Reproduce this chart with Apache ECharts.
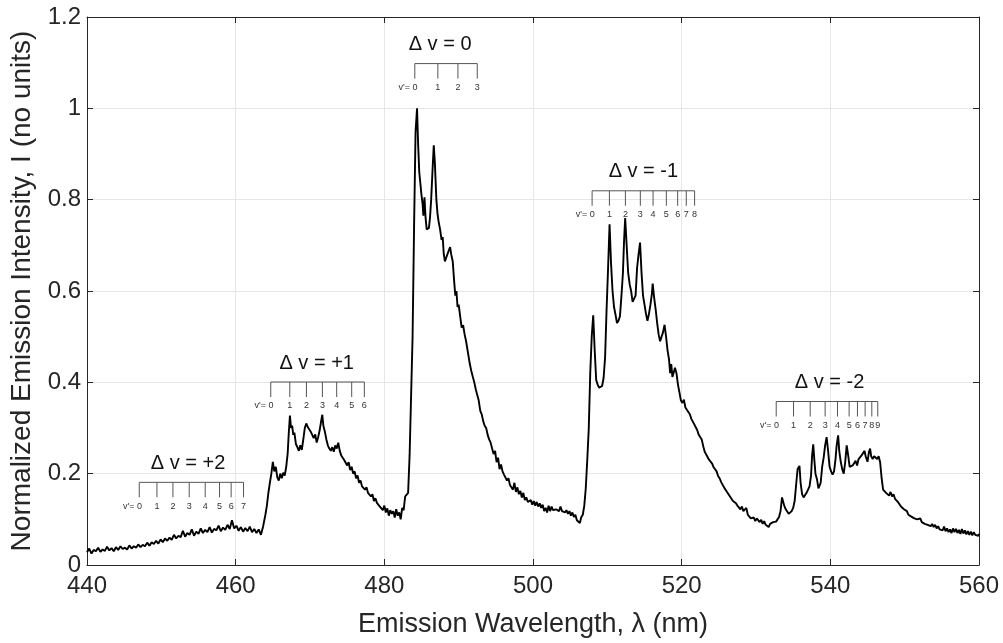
<!DOCTYPE html>
<html>
<head>
<meta charset="utf-8">
<script src="https://cdn.jsdelivr.net/npm/echarts@6/dist/echarts.min.js"></script>
<style>
html,body{margin:0;padding:0;background:#fff;}
#chart{width:1003px;height:643px;}
</style>
</head>
<body>
<div id="chart"></div>
<script>
// ---- Data (wavelength nm, normalized intensity) ----
const segBaseline = [
[440.0,0.028],[440.3,0.036],[440.6,0.025],[440.9,0.033],[441.2,0.030],[441.5,0.038],[441.8,0.029],[442.1,0.034],
[442.4,0.031],[442.7,0.040],[443.0,0.032],[443.3,0.037],[443.6,0.030],[443.9,0.039],[444.2,0.033],[444.5,0.041],
[444.8,0.035],[445.1,0.038],[445.4,0.034],[445.7,0.043],[446.0,0.036],[446.3,0.041],[446.6,0.038],[446.9,0.045],
[447.2,0.039],[447.5,0.044],[447.8,0.041],[448.1,0.049],[448.4,0.042],[448.7,0.050],[449.0,0.046],[449.3,0.053],
[449.6,0.047],[449.9,0.056],[450.2,0.050],[450.5,0.058],[450.8,0.053],[451.1,0.060],[451.4,0.055],[451.7,0.066],
[452.0,0.058],[452.3,0.064],[452.6,0.061],[452.9,0.075],[453.2,0.062],[453.5,0.070],[453.8,0.066],[454.1,0.078],
[454.4,0.064],[454.7,0.073],[455.0,0.068],[455.3,0.080],[455.6,0.070],[455.9,0.077],[456.2,0.072],[456.5,0.083],
[456.8,0.071],[457.1,0.079],[457.4,0.076],[457.7,0.086],[458.0,0.074],[458.3,0.082],[458.6,0.077],[458.9,0.088],
[459.2,0.079],[459.5,0.098],[459.8,0.080],[460.1,0.086],[460.4,0.075],[460.7,0.083],[461.0,0.073],[461.3,0.081],
[461.6,0.074],[461.9,0.084],[462.2,0.072],[462.5,0.079],[462.8,0.070],[463.1,0.078],[463.4,0.066],[463.7,0.085]
];
const segPlus1 = [
[464.0,0.110],[464.2,0.130],[464.4,0.158],[464.6,0.180],[464.8,0.200],[465.0,0.226],[465.2,0.205],[465.4,0.215],
[465.6,0.192],[465.8,0.185],[466.0,0.200],[466.2,0.190],[466.4,0.202],[466.6,0.196],[466.8,0.215],[467.0,0.245],
[467.15,0.290],[467.3,0.327],[467.45,0.300],[467.6,0.305],[467.75,0.285],[467.9,0.290],[468.1,0.265],[468.3,0.258],
[468.5,0.250],[468.7,0.262],[468.9,0.252],[469.1,0.275],[469.3,0.300],[469.5,0.310],[469.7,0.302],[469.9,0.305],
[470.1,0.292],[470.3,0.296],[470.5,0.278],[470.7,0.286],[470.9,0.268],[471.1,0.280],[471.3,0.295],[471.5,0.315],
[471.65,0.329],[471.8,0.305],[472.0,0.292],[472.2,0.275],[472.4,0.262],[472.6,0.255],[472.8,0.250],[473.0,0.258],
[473.2,0.248],[473.4,0.262],[473.6,0.255],[473.8,0.268],[474.0,0.250],[474.2,0.240],[474.4,0.238],[474.6,0.230],
[474.8,0.232],[475.0,0.218],[475.2,0.225],[475.4,0.208],[475.6,0.215],[475.8,0.200],[476.0,0.205],[476.2,0.190],
[476.4,0.196],[476.6,0.180],[476.8,0.185],[477.0,0.172],[477.2,0.176],[477.4,0.165],[477.6,0.170],[477.8,0.158],
[478.0,0.162],[478.2,0.150],[478.4,0.155],[478.6,0.140],[478.8,0.146],[479.0,0.136],[479.2,0.140],[479.4,0.128],
[479.6,0.132],[479.8,0.120],[480.0,0.130],[480.2,0.115],[480.4,0.124],[480.6,0.108],[480.8,0.120],[481.0,0.112],
[481.2,0.118],[481.4,0.104],[481.6,0.122],[481.8,0.108],[482.0,0.115],[482.2,0.100],[482.4,0.125],[482.6,0.120],
[482.8,0.150],[483.0,0.148],[483.2,0.158]
];
const segZero = [
[483.4,0.240],[483.6,0.370],[483.8,0.500],[484.0,0.740],[484.2,0.948],[484.4,1.000],[484.55,0.920],[484.7,0.860],
[484.85,0.835],[485.0,0.810],[485.15,0.790],[485.25,0.765],[485.4,0.805],[485.55,0.760],[485.7,0.735],[485.85,0.732],
[486.0,0.738],[486.15,0.762],[486.3,0.800],[486.5,0.870],[486.65,0.919],[486.8,0.880],[487.0,0.800],[487.15,0.770],
[487.3,0.752],[487.5,0.735],[487.7,0.712],[487.85,0.718],[488.0,0.680],[488.15,0.665],[488.3,0.672],[488.5,0.675],
[488.7,0.690],[488.85,0.696],[489.0,0.680],[489.2,0.665],[489.4,0.620],[489.55,0.590],[489.7,0.600],[489.85,0.565],
[490.0,0.570],[490.2,0.545],[490.4,0.520],[490.6,0.525],[490.8,0.505],[491.0,0.490],[491.15,0.488],[491.3,0.460],
[491.5,0.440],[491.7,0.425],[491.9,0.412],[492.1,0.400],[492.3,0.385],[492.5,0.372],[492.7,0.360],[492.9,0.338],
[493.1,0.330],[493.3,0.315],[493.5,0.305],[493.7,0.300],[493.9,0.285],[494.1,0.275],[494.3,0.268],[494.5,0.255],
[494.7,0.243],[494.9,0.250],[495.1,0.225],[495.3,0.235],[495.5,0.210],[495.7,0.220],[495.9,0.205],[496.1,0.198],
[496.3,0.200],[496.5,0.185],[496.7,0.190],[496.9,0.175],[497.1,0.178],[497.3,0.165],[497.5,0.180],[497.7,0.160],
[497.9,0.170],[498.1,0.155],[498.3,0.162],[498.5,0.148],[498.7,0.158],[498.9,0.142],[499.1,0.148],[499.3,0.138],
[499.5,0.135],[499.7,0.142],[499.9,0.132],[500.1,0.140],[500.3,0.130],[500.5,0.138],[500.7,0.128],[500.9,0.135],
[501.1,0.125],[501.3,0.132],[501.5,0.118],[501.7,0.125],[501.9,0.115],[502.1,0.130],[502.3,0.118],[502.5,0.128],
[502.7,0.120],[502.9,0.124],[503.1,0.122],[503.3,0.126],[503.5,0.118],[503.7,0.128],[503.9,0.118],[504.1,0.122],
[504.3,0.115],[504.5,0.120],[504.7,0.112],[504.9,0.118],[505.1,0.108],[505.3,0.115],[505.5,0.105],[505.7,0.110],
[505.9,0.098],[506.1,0.102],[506.3,0.092],[506.5,0.105],[506.7,0.110],[506.9,0.130],[507.1,0.168]
];
const segMinus1 = [
[507.3,0.230],[507.5,0.298],[507.7,0.420],[507.9,0.500],[508.1,0.547],[508.3,0.470],[508.5,0.405],[508.7,0.395],
[508.9,0.388],[509.1,0.385],[509.3,0.392],[509.5,0.410],[509.7,0.455],[509.9,0.560],[510.1,0.650],[510.3,0.746],
[510.5,0.660],[510.7,0.600],[510.9,0.565],[511.1,0.548],[511.3,0.530],[511.5,0.535],[511.7,0.545],[511.9,0.590],
[512.1,0.640],[512.25,0.710],[512.4,0.760],[512.6,0.700],[512.8,0.640],[513.0,0.615],[513.2,0.600],[513.4,0.576],
[513.6,0.580],[513.8,0.590],[514.0,0.650],[514.2,0.680],[514.4,0.706],[514.6,0.640],[514.8,0.590],[515.0,0.570],
[515.2,0.550],[515.4,0.535],[515.6,0.550],[515.8,0.570],[516.0,0.595],[516.1,0.616],[516.3,0.585],[516.5,0.560],
[516.7,0.530],[516.9,0.505],[517.1,0.490],[517.3,0.488],[517.5,0.510],[517.7,0.526],[517.9,0.500],[518.1,0.470],
[518.3,0.450],[518.45,0.420],[518.6,0.440],[518.75,0.412],[518.9,0.420],[519.1,0.432],[519.3,0.420],[519.5,0.395],
[519.7,0.378],[519.9,0.360],[520.1,0.355],[520.3,0.362],[520.5,0.345],[520.7,0.348],[520.9,0.335],[521.1,0.330],
[521.3,0.320],[521.5,0.322],[521.7,0.308],[521.9,0.305],[522.1,0.295],[522.3,0.285],[522.5,0.282],[522.7,0.275],
[522.9,0.260],[523.1,0.248],[523.3,0.242],[523.5,0.238],[523.7,0.230],[523.9,0.228],[524.1,0.222],[524.3,0.214],
[524.5,0.218],[524.7,0.205],[524.9,0.195],[525.1,0.190],[525.3,0.182],[525.5,0.178],[525.7,0.170],[525.9,0.165],
[526.1,0.160],[526.3,0.162],[526.5,0.150],[526.7,0.152],[526.9,0.140],[527.1,0.142],[527.3,0.135],[527.5,0.130],
[527.7,0.128],[527.9,0.122],[528.1,0.128],[528.3,0.118],[528.5,0.115],[528.7,0.125],[528.9,0.110],[529.1,0.112],
[529.3,0.102],[529.5,0.098],[529.7,0.104],[529.9,0.096],[530.1,0.102],[530.3,0.100],[530.5,0.094],[530.7,0.099],
[530.9,0.090],[531.1,0.096],[531.3,0.088],[531.5,0.092],[531.7,0.083],[531.9,0.090],[532.1,0.086],[532.3,0.094],
[532.5,0.090],[532.7,0.095],[532.9,0.098]
];
const segMinus2 = [
[533.1,0.105],[533.3,0.118],[533.5,0.148],[533.6,0.150],[533.8,0.130],[534.0,0.122],[534.2,0.118],[534.4,0.112],
[534.6,0.110],[534.8,0.118],[535.0,0.125],[535.2,0.140],[535.45,0.185],[535.6,0.210],[535.85,0.217],[536.0,0.180],
[536.2,0.155],[536.4,0.148],[536.6,0.152],[536.8,0.158],[537.0,0.161],[537.2,0.172],[537.4,0.195],[537.55,0.240],
[537.7,0.264],[537.85,0.230],[538.0,0.200],[538.2,0.188],[538.4,0.168],[538.55,0.165],[538.7,0.180],[538.9,0.215],
[539.1,0.235],[539.3,0.262],[539.5,0.280],[539.7,0.250],[539.9,0.215],[540.1,0.205],[540.3,0.198],[540.5,0.205],
[540.7,0.232],[540.85,0.262],[541.05,0.284],[541.2,0.250],[541.4,0.226],[541.6,0.210],[541.8,0.200],[542.0,0.225],
[542.2,0.262],[542.4,0.240],[542.6,0.215],[542.8,0.212],[543.0,0.218],[543.2,0.222],[543.4,0.228],[543.6,0.218],
[543.8,0.232],[544.0,0.230],[544.2,0.240],[544.4,0.236],[544.6,0.250],[544.75,0.238],[545.0,0.226],[545.2,0.248],
[545.35,0.255],[545.5,0.238],[545.7,0.232],[545.9,0.238],[546.1,0.242],[546.3,0.232],[546.5,0.238],[546.7,0.225],
[546.9,0.190],[547.1,0.165],[547.3,0.168],[547.5,0.158],[547.7,0.162],[547.9,0.152],[548.1,0.160],[548.3,0.150],
[548.5,0.155],[548.7,0.145],[548.9,0.148],[549.1,0.138],[549.3,0.135],[549.5,0.128],[549.7,0.130],[549.9,0.122],
[550.1,0.120],[550.3,0.118],[550.5,0.110],[550.7,0.112],[550.9,0.106],[551.1,0.108],[551.3,0.102],[551.5,0.104],
[551.7,0.100],[551.9,0.098],[552.1,0.102],[552.3,0.094],[552.5,0.098],[552.7,0.090],[552.9,0.094],[553.1,0.088],
[553.3,0.092],[553.5,0.085],[553.7,0.090],[553.9,0.083],[554.1,0.088],[554.3,0.080],[554.5,0.085],[554.7,0.078],
[554.9,0.082],[555.1,0.076],[555.3,0.084],[555.5,0.074],[555.7,0.080],[555.9,0.072],[556.1,0.078],[556.3,0.070],
[556.5,0.080],[556.7,0.072],[556.9,0.079],[557.1,0.070],[557.3,0.077],[557.5,0.068],[557.7,0.079],[557.9,0.069],
[558.1,0.076],[558.3,0.067],[558.5,0.074],[558.7,0.066],[558.9,0.073],[559.1,0.065],[559.3,0.072],[559.5,0.066],
[559.7,0.070],[559.9,0.064],[560.0,0.068]
];

// Band-head annotations
const bandTitles = ['\u0394 v = +2', '\u0394 v = +1', '\u0394 v = 0', '\u0394 v = -1', '\u0394 v = -2'];
const headsPlus2  = [447.03, 449.41, 451.56, 453.75, 455.90, 457.83, 459.39, 461.06];
const headsPlus1  = [464.72, 467.28, 469.52, 471.67, 473.59, 475.61, 477.31];
const headsZero   = [484.10, 487.20, 489.90, 492.50];
const headsMinus1 = [507.95, 510.28, 512.43, 514.44, 516.15, 517.94, 519.46, 520.62, 521.74];
const headsMinus2 = [532.72, 535.05, 537.29, 539.30, 540.96, 542.53, 543.65, 544.68, 545.58, 546.38];
const bracketLevel = [0.181, 0.4007, 1.098, 0.8194, 0.358];
const titleCenter = [453.6, 470.9, 487.5, 514.85, 539.9];

// Axis ticks
const xTicks = [440, 460, 480, 500, 520, 540, 560];
const yTicks = [0, 0.2, 0.4, 0.6, 0.8, 1, 1.2];

// ---- Chart ----
const FONT = '"Liberation Sans", Helvetica, Arial, sans-serif';
const bandHeads = [headsPlus2, headsPlus1, headsZero, headsMinus1, headsMinus2];
const spectrum = [].concat(segBaseline, segPlus1, segZero, segMinus1, segMinus2);

const chart = echarts.init(document.getElementById('chart'), null, {renderer: 'canvas'});

const axisColor = '#262626';
const xMin = xTicks[0], xMax = xTicks[xTicks.length - 1];
const yMin = yTicks[0], yMax = yTicks[yTicks.length - 1];

function renderBracket(params, api) {
  const i = params.dataIndex;
  const heads = bandHeads[i];
  const lvl = bracketLevel[i];
  const yTop = api.coord([heads[0], lvl])[1];
  const xs = heads.map(h => api.coord([h, lvl])[0]);
  const drop = 15;
  const stroke = {stroke: '#555', lineWidth: 1};
  const children = [];
  children.push({type: 'line', shape: {x1: xs[0], y1: yTop, x2: xs[xs.length - 1], y2: yTop}, style: stroke});
  xs.forEach((x, k) => {
    children.push({type: 'line', shape: {x1: x, y1: yTop, x2: x, y2: yTop + drop}, style: stroke});
    children.push({
      type: 'text',
      style: {
        text: k === 0 ? "v'= 0" : String(k),
        x: k === 0 ? x + 2.7 : x,
        y: yTop + drop + 9,
        textAlign: k === 0 ? 'right' : 'center',
        textVerticalAlign: 'middle',
        fontSize: 9,
        fontFamily: FONT,
        fill: '#333'
      }
    });
  });
  const cx = api.coord([titleCenter[i], lvl])[0];
  children.push({
    type: 'text',
    style: {
      text: bandTitles[i],
      x: cx,
      y: yTop - 19,
      textAlign: 'center',
      textVerticalAlign: 'middle',
      fontSize: 20,
      fontFamily: FONT,
      fill: '#111'
    }
  });
  return {type: 'group', children: children};
}

const option = {
  animation: false,
  backgroundColor: '#fff',
  grid: {left: 86, right: 24, top: 17, bottom: 72, containLabel: false},
  xAxis: [{
    type: 'value', min: xMin, max: xMax, interval: 20,
    name: 'Emission Wavelength, \u03bb (nm)',
    nameLocation: 'middle', nameGap: 46,
    nameTextStyle: {fontSize: 27, color: axisColor, fontFamily: FONT},
    axisLine: {show: true, onZero: false, lineStyle: {color: axisColor, width: 1}},
    axisTick: {show: true, inside: true, length: 6, lineStyle: {color: axisColor}},
    axisLabel: {fontSize: 24, color: axisColor, fontFamily: FONT, margin: 9, showMinLabel: true, showMaxLabel: true},
    splitLine: {show: true, lineStyle: {color: '#e6e6e6', width: 1}}
  }, {
    type: 'value', min: xMin, max: xMax, interval: 20, position: 'top',
    axisLine: {show: true, onZero: false, lineStyle: {color: axisColor, width: 1}},
    axisTick: {show: true, inside: true, length: 6, lineStyle: {color: axisColor}},
    axisLabel: {show: false}, splitLine: {show: false}
  }],
  yAxis: [{
    type: 'value', min: yMin, max: yMax, interval: 0.2,
    name: 'Normalized Emission Intensity, I (no units)',
    nameLocation: 'middle', nameGap: 51,
    nameTextStyle: {fontSize: 28, color: axisColor, fontFamily: FONT},
    axisLine: {show: true, onZero: false, lineStyle: {color: axisColor, width: 1}},
    axisTick: {show: true, inside: true, length: 6, lineStyle: {color: axisColor}},
    axisLabel: {fontSize: 24, color: axisColor, fontFamily: FONT, margin: 6,
      formatter: v => String(Math.round(v * 10) / 10)},
    splitLine: {show: true, lineStyle: {color: '#e6e6e6', width: 1}}
  }, {
    type: 'value', min: yMin, max: yMax, interval: 0.2, position: 'right',
    axisLine: {show: true, onZero: false, lineStyle: {color: axisColor, width: 1}},
    axisTick: {show: true, inside: true, length: 6, lineStyle: {color: axisColor}},
    axisLabel: {show: false}, splitLine: {show: false}
  }],
  series: [{
    type: 'line',
    data: spectrum,
    showSymbol: false,
    symbol: 'none',
    lineStyle: {color: '#000', width: 1.9},
    z: 5
  }, {
    type: 'custom',
    coordinateSystem: 'cartesian2d',
    data: bandHeads.map((h, i) => [h[0], bracketLevel[i]]),
    renderItem: renderBracket,
    clip: false,
    z: 6
  }]
};
chart.setOption(option);
</script>
</body>
</html>
